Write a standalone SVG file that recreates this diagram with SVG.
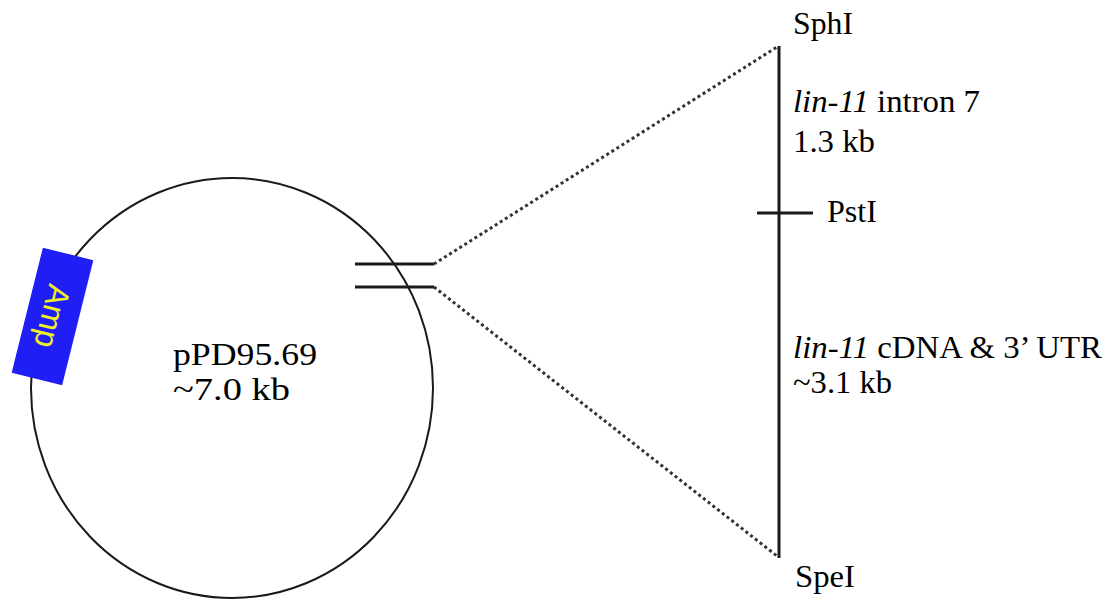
<svg xmlns="http://www.w3.org/2000/svg" width="1114" height="600" viewBox="0 0 1114 600">
<style>
.t{font-family:"Liberation Serif","Times New Roman",serif;font-size:32px;fill:#000}
.it{font-style:italic}
.ln{stroke:#1a1a1a;stroke-width:3;fill:none}
.dot{stroke:#333;stroke-width:3;stroke-dasharray:3 3;fill:none}
</style>
<rect width="1114" height="600" fill="#fff"/>
<g id="plasmid">
<ellipse cx="232" cy="388" rx="201" ry="210" fill="none" stroke="#1a1a1a" stroke-width="2"/>
<text class="t" x="173" y="365" font-size="33" textLength="144" lengthAdjust="spacingAndGlyphs">pPD95.69</text>
<text class="t" x="173" y="400" font-size="33" textLength="117" lengthAdjust="spacingAndGlyphs">~7.0 kb</text>
</g>
<g id="amp" transform="translate(52.5,316.5) rotate(14)">
<rect x="-26" y="-64.5" width="52" height="129" fill="#1f1ff5"/>
<text transform="rotate(90)" x="0" y="11" text-anchor="middle" font-family="Liberation Sans,Arial,sans-serif" font-size="32" fill="#f0f020" textLength="64" lengthAdjust="spacingAndGlyphs">Amp</text>
</g>
<g id="insert">
<line class="ln" x1="779" y1="46" x2="779" y2="558"/>
<line class="ln" x1="757" y1="213" x2="813" y2="213"/>
<text class="t" x="793" y="34" textLength="60" lengthAdjust="spacingAndGlyphs">SphI</text>
<text class="t" x="793" y="112" textLength="187" lengthAdjust="spacingAndGlyphs"><tspan class="it">lin-11</tspan> intron 7</text>
<text class="t" x="793" y="152" textLength="82" lengthAdjust="spacingAndGlyphs">1.3 kb</text>
<text class="t" x="827" y="222" textLength="50" lengthAdjust="spacingAndGlyphs">PstI</text>
<text class="t" x="793" y="358" textLength="309" lengthAdjust="spacingAndGlyphs"><tspan class="it">lin-11</tspan> cDNA &amp; 3’ UTR</text>
<text class="t" x="793" y="393" textLength="99" lengthAdjust="spacingAndGlyphs">~3.1 kb</text>
<text class="t" x="795" y="587" textLength="60" lengthAdjust="spacingAndGlyphs">SpeI</text>
</g>
<g id="connectors">
<line class="ln" x1="355" y1="264" x2="434" y2="264"/>
<line class="ln" x1="355" y1="287" x2="434" y2="287"/>
<line class="dot" x1="434" y1="264" x2="777" y2="47"/>
<line class="dot" x1="434" y1="287" x2="777" y2="556"/>
</g>
</svg>
